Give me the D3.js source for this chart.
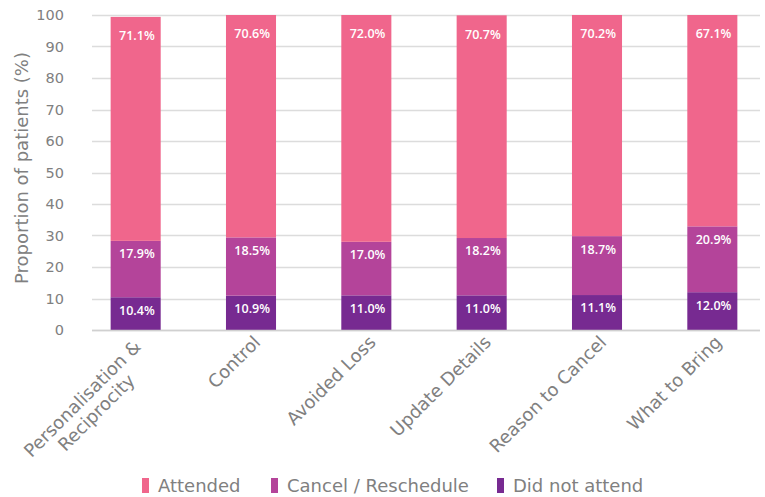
<!DOCTYPE html>
<html>
<head>
<meta charset="utf-8">
<script src="https://cdn.jsdelivr.net/npm/d3@7"></script>
<style>
  body { margin: 0; background: #fff; }
  text { font-family: "DejaVu Sans", "Noto Sans", sans-serif; }
</style>
</head>
<body>
<div id="chart-area"></div>
<script>
// data
var categories = ["Personalisation & Reciprocity", "Control", "Avoided Loss", "Update Details", "Reason to Cancel", "What to Bring"];
var didNotAttend = [10.4, 10.9, 11.0, 11.0, 11.1, 12.0];
var cancelResched = [17.9, 18.5, 17.0, 18.2, 18.7, 20.9];
var attended = [71.1, 70.6, 72.0, 70.7, 70.2, 67.1];
var seriesNames = ["Did not attend", "Cancel / Reschedule", "Attended"];
var legendOrder = ["Attended", "Cancel / Reschedule", "Did not attend"];
var yTicks = [0, 10, 20, 30, 40, 50, 60, 70, 80, 90, 100];

var colors = {
  "Attended": "#f0668c",
  "Cancel / Reschedule": "#b4449a",
  "Did not attend": "#772a91"
};

var width = 765, height = 497;
var svg = d3.select("#chart-area").append("svg")
  .attr("width", width)
  .attr("height", height);

// scales
var x = d3.scaleBand()
  .domain(categories)
  .range([78, 770])
  .paddingInner(0.566)
  .paddingOuter(0.283);
var y = d3.scaleLinear()
  .domain([0, 100])
  .range([330, 15]);

// gridlines
svg.append("g").selectAll("line")
  .data(yTicks)
  .enter().append("line")
    .attr("x1", 92).attr("x2", 760)
    .attr("y1", function(d){ return Math.round(y(d)) + 0.5; })
    .attr("y2", function(d){ return Math.round(y(d)) + 0.5; })
    .attr("stroke", "#dcdcdc")
    .attr("stroke-width", 1.5);

// y tick labels
svg.append("g").selectAll("text")
  .data(yTicks)
  .enter().append("text")
    .attr("x", 64)
    .attr("y", function(d){ return y(d); })
    .attr("dy", "0.35em")
    .attr("text-anchor", "end")
    .attr("font-size", "14.5px")
    .attr("fill", "#808080")
    .text(function(d){ return d; });

// y label
svg.append("text")
  .attr("transform", "translate(28,168) rotate(-90)")
  .attr("text-anchor", "middle")
  .attr("font-size", "18px")
  .attr("fill", "#808080")
  .text("Proportion of patients (%)");

// stack
var rows = categories.map(function(c, i){
  return { cat: c, "Did not attend": didNotAttend[i], "Cancel / Reschedule": cancelResched[i], "Attended": attended[i] };
});
var stack = d3.stack().keys(seriesNames)(rows);

var layers = svg.append("g").selectAll("g")
  .data(stack)
  .enter().append("g")
    .attr("fill", function(d){ return colors[d.key]; });

layers.selectAll("rect")
  .data(function(d){ return d; })
  .enter().append("rect")
    .attr("x", function(d){ return x(d.data.cat); })
    .attr("width", x.bandwidth())
    .attr("y", function(d){ return y(d[1]); })
    .attr("height", function(d){ return y(d[0]) - y(d[1]); });

// value labels
layers.selectAll("text")
  .data(function(d){ return d.map(function(p){ return { p: p, key: d.key }; }); })
  .enter().append("text")
    .attr("x", function(d){ return x(d.p.data.cat) + x.bandwidth() - 6; })
    .attr("y", function(d){ return y(d.p[1]) + (d.key === "Attended" ? 19 : 13); })
    .attr("dy", "0.35em")
    .attr("text-anchor", "end")
    .attr("fill", "#fff")
    .style("font-family", "'Open Sans', sans-serif")
    .attr("font-weight", 600)
    .attr("font-size", "12.5px")
    .text(function(d){ return d.p.data[d.key].toFixed(1) + "%"; });

// bottom axis line
svg.append("line")
  .attr("x1", 92).attr("x2", 760)
  .attr("y1", 330.5).attr("y2", 330.5)
  .attr("stroke", "#d0d0d0").attr("stroke-width", 1.5);

// x labels, rotated
var xl = svg.append("g").selectAll("g")
  .data(categories)
  .enter().append("g")
    .attr("transform", function(d){
      return "translate(" + (x(d) + x.bandwidth() / 2 + 6) + ",339) rotate(-45)";
    });

xl.each(function(d){
  var g = d3.select(this);
  var parts = d === "Personalisation & Reciprocity" ? ["Personalisation &", "Reciprocity"] : [d];
  if (parts.length === 1) {
    g.append("text")
      .attr("text-anchor", "end")
      .attr("dy", "0.35em")
      .attr("font-size", "18px")
      .attr("fill", "#808080")
      .text(d);
  } else {
    var t1 = g.append("text")
      .attr("text-anchor", "middle")
      .attr("dy", "0.35em")
      .attr("font-size", "18px")
      .attr("fill", "#808080")
      .text(parts[0]);
    var w1 = t1.node().getComputedTextLength();
    t1.attr("x", -w1 / 2 - 6);
    g.append("text")
      .attr("text-anchor", "middle")
      .attr("x", -w1 / 2 - 6)
      .attr("dy", "1.45em")
      .attr("font-size", "18px")
      .attr("fill", "#808080")
      .text(parts[1]);
  }
});

// legend
var legendX = [142, 271, 497];
var lg = svg.append("g").selectAll("g")
  .data(legendOrder)
  .enter().append("g")
    .attr("transform", function(d, i){ return "translate(" + legendX[i] + ",478)"; });
lg.append("rect")
  .attr("width", 7).attr("height", 15)
  .attr("fill", function(d){ return colors[d]; });
lg.append("text")
  .attr("x", 16).attr("y", 8)
  .attr("dy", "0.35em")
  .attr("font-size", "18px")
  .attr("fill", "#808080")
  .text(function(d){ return d; });
</script>
</body>
</html>
